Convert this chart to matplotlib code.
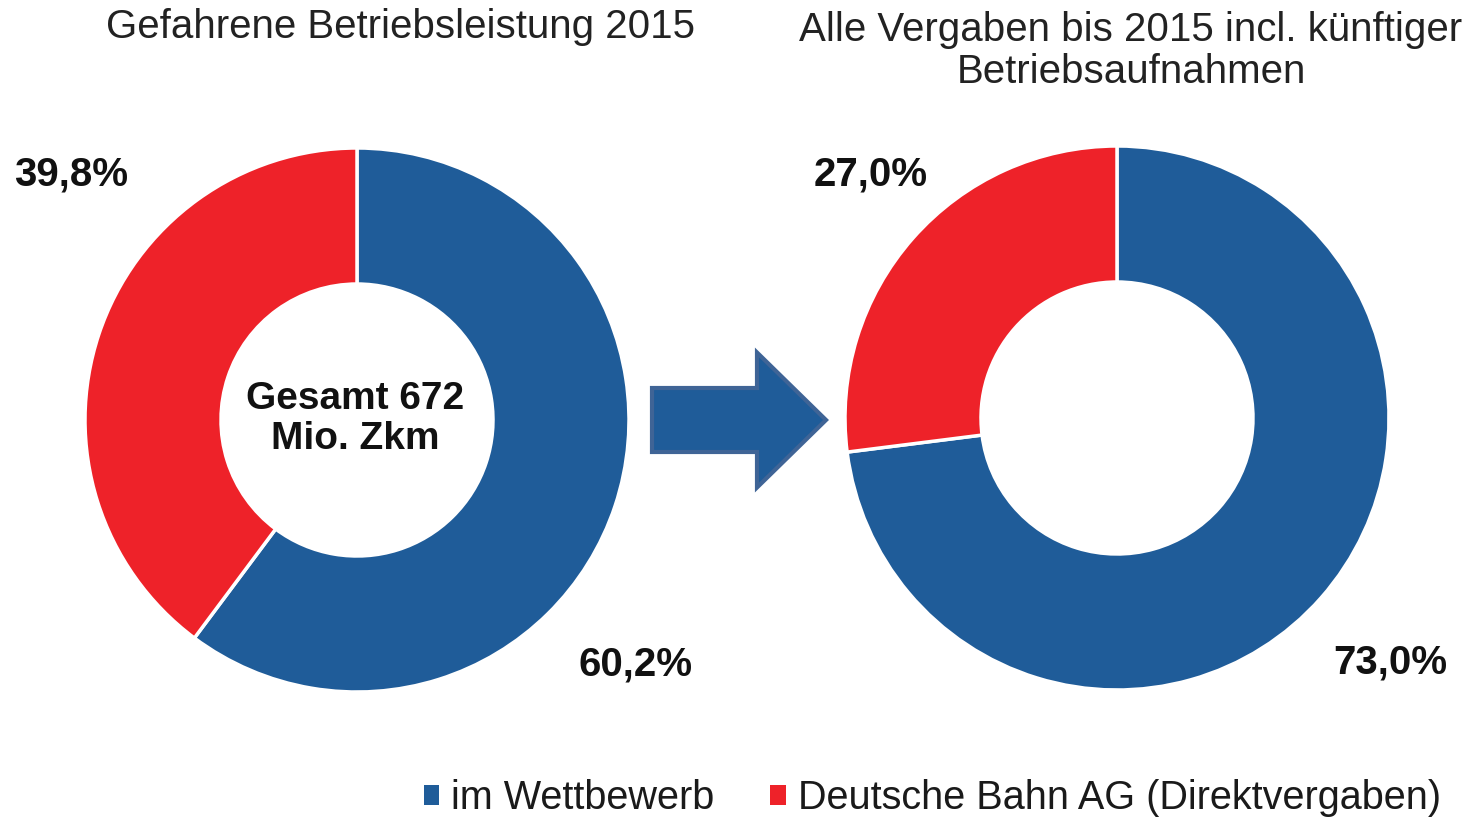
import matplotlib.pyplot as plt
from matplotlib.patches import FancyArrow, Patch

# Data
series_labels = ["im Wettbewerb", "Deutsche Bahn AG (Direktvergaben)"]
share_2015 = [60.2, 39.8]
share_future = [73.0, 27.0]
titles = ["Gefahrene Betriebsleistung 2015",
          "Alle Vergaben bis 2015 incl. künftiger\nBetriebsaufnahmen"]
center_text = "Gesamt 672\nMio. Zkm"

colors = ["#1F5C99", "#EE2229"]
W, H = 1476, 819

plt.rcParams["font.family"] = ["Liberation Sans", "DejaVu Sans"]

fig = plt.figure(figsize=(W / 100, H / 100), dpi=100)
ax = fig.add_axes([0, 0, 1, 1])


def donut(cx, cy, values):
    ax.pie(values, colors=colors, center=(cx, H - cy), radius=272,
           startangle=90, counterclock=False,
           wedgeprops=dict(width=136, edgecolor="white", linewidth=2.5))


donut(357, 420, share_2015)
donut(1117, 418, share_future)


def pct(v):
    return f"{v:.1f}%".replace(".", ",")


# percentage labels
lbl = dict(fontsize=29, fontweight="bold", color="#111111", ha="center", va="center")
ax.text(71, H - 174, pct(share_2015[1]), **lbl)
ax.text(636, H - 664, pct(share_2015[0]), **lbl)
ax.text(871, H - 174, pct(share_future[1]), **lbl)
ax.text(1390, H - 662, pct(share_future[0]), **lbl)

ax.text(355, H - 419, center_text, fontsize=28, fontweight="bold",
        color="#111111", ha="center", va="center", linespacing=1.13)

# titles
ax.text(400, H - 27, titles[0], fontsize=29, color="#222222",
        ha="center", va="center")
ax.text(1131, H - 51, titles[1], fontsize=29, color="#222222",
        ha="center", va="center", linespacing=1.13)

# arrow between the charts
ax.add_patch(FancyArrow(652, H - 420, 174, 0, width=64, head_width=135,
                        head_length=69, length_includes_head=True,
                        facecolor="#1F5C99", edgecolor="#3F6496", linewidth=3))

# legend
handles = [Patch(facecolor=c) for c in colors]
ax.legend(handles, series_labels, loc="center left",
          bbox_to_anchor=(388, H - 798), bbox_transform=ax.transData,
          ncol=2, frameon=False, handlelength=0.4,
          handleheight=0.4, handletextpad=0.3, columnspacing=1.4,
          labelcolor="#1a1a1a", prop=dict(size=28.5))

ax.set_xlim(0, W)
ax.set_ylim(0, H)
ax.set_aspect("equal")
ax.axis("off")

fig.savefig("out.png", dpi=100)
